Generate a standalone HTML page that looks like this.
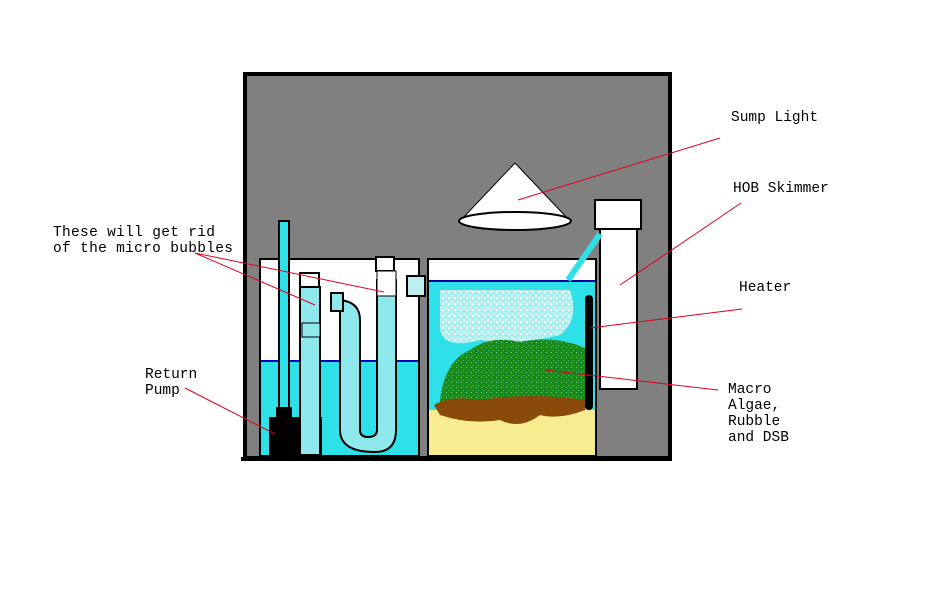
<!DOCTYPE html>
<html><head><meta charset="utf-8"><style>
html,body{margin:0;padding:0;background:#fff;}
svg{display:block;}
text{font-family:"Liberation Mono",monospace;font-size:14.5px;fill:#000;}
</style></head><body>
<svg width="933" height="594" viewBox="0 0 933 594" xmlns="http://www.w3.org/2000/svg">
<defs>
<pattern id="bub" width="6" height="6" patternUnits="userSpaceOnUse">
<rect width="6" height="6" fill="#a8f0f2"/><rect x="1" y="1" width="2" height="2" fill="#fff"/><rect x="4" y="3" width="2" height="2" fill="#fff"/>
</pattern>
<pattern id="alg" width="5" height="5" patternUnits="userSpaceOnUse">
<rect width="5" height="5" fill="#1a8a1a"/><rect x="1" y="2" width="1" height="1" fill="#5fd0a0"/><rect x="3" y="0" width="1" height="1" fill="#3fb86a"/>
</pattern>
</defs>
<rect x="245" y="74" width="425" height="384" fill="#808080" stroke="#000" stroke-width="4"/>
<line x1="241" y1="459" x2="672" y2="459" stroke="#000" stroke-width="4"/>
<rect x="260" y="259" width="159" height="197" fill="#fff" stroke="#000" stroke-width="2"/>
<rect x="261" y="361" width="157" height="94" fill="#2ee0e8"/>
<line x1="261" y1="361" x2="418" y2="361" stroke="#0000c0" stroke-width="2"/>
<rect x="428" y="259" width="168" height="197" fill="#fff" stroke="#000" stroke-width="2"/>
<rect x="429" y="281" width="166" height="174" fill="#2ee0e8"/>
<line x1="429" y1="281" x2="595" y2="281" stroke="#0000a0" stroke-width="2"/>
<path d="M440 290 L570 290 Q580 320 560 335 Q520 345 480 340 Q445 350 440 330 Z" fill="url(#bub)"/>
<path d="M440 400 Q445 360 470 350 Q490 335 520 342 Q555 335 585 348 L585 405 L440 408 Z" fill="url(#alg)"/>
<rect x="429" y="410" width="166" height="45" fill="#f8ec90"/>
<path d="M434 405 Q450 395 480 400 Q530 392 585 400 L585 410 Q560 420 540 415 Q520 430 500 420 Q470 425 440 415 Z" fill="#8a4a0a"/>
<rect x="585" y="295" width="8" height="115" rx="4" fill="#000"/>
<rect x="600" y="229" width="37" height="160" fill="#fff" stroke="#000" stroke-width="2"/>
<rect x="595" y="200" width="46" height="29" fill="#fff" stroke="#000" stroke-width="2"/>
<line x1="600" y1="234" x2="568" y2="280" stroke="#2ee0e8" stroke-width="6"/>
<polygon points="515,163 460,221 570,221" fill="#fff" stroke="#000" stroke-width="1"/>
<ellipse cx="515" cy="221" rx="56" ry="9" fill="#fff" stroke="#000" stroke-width="2"/>
<rect x="279" y="221" width="10" height="190" fill="#2ee0e8" stroke="#000" stroke-width="2"/>
<rect x="276" y="407" width="16" height="12" fill="#000"/>
<rect x="269" y="417" width="53" height="38" fill="#000"/>
<rect x="300" y="287" width="20" height="168" fill="#8ee8ec" stroke="#000" stroke-width="2"/>
<rect x="300" y="273" width="19" height="14" fill="#fff" stroke="#000" stroke-width="2"/>
<rect x="302" y="323" width="18" height="14" fill="#8ee8ec" stroke="#000" stroke-width="1"/>
<path d="M340 300 L340 430 Q340 452 375 452 Q396 452 396 430 L396 280 L377 280 L377 430 Q377 437 368 437 Q360 437 360 430 L360 320 Q360 302 340 300 Z" fill="#8ee8ec" stroke="#000" stroke-width="2"/>
<rect x="331" y="293" width="12" height="18" fill="#8ee8ec" stroke="#000" stroke-width="2"/>
<rect x="376" y="257" width="18" height="14" fill="#fff" stroke="#000" stroke-width="2"/>
<rect x="377" y="271" width="19" height="25" fill="#fff" stroke="#000" stroke-width="1"/>
<rect x="407" y="276" width="18" height="20" fill="#bfeef0" stroke="#000" stroke-width="2"/>
<g stroke="#e00020" stroke-width="1" fill="none">
<line x1="720" y1="138" x2="518" y2="200"/>
<line x1="741" y1="203" x2="620" y2="285"/>
<line x1="742" y1="309" x2="590" y2="328"/>
<line x1="718" y1="390" x2="545" y2="370"/>
<line x1="195" y1="253" x2="384" y2="292"/>
<line x1="195" y1="253" x2="315" y2="305"/>
<line x1="185" y1="388" x2="275" y2="434"/>
</g>
<text x="731" y="121">Sump Light</text>
<text x="733" y="192">HOB Skimmer</text>
<text x="739" y="291">Heater</text>
<text x="728" y="393">Macro</text>
<text x="728" y="409">Algae,</text>
<text x="728" y="425">Rubble</text>
<text x="728" y="441">and DSB</text>
<text x="53" y="236" textLength="162">These will get rid</text>
<text x="53" y="252" textLength="180">of the micro bubbles</text>
<text x="145" y="378">Return</text>
<text x="145" y="394">Pump</text>
</svg>
</body></html>
